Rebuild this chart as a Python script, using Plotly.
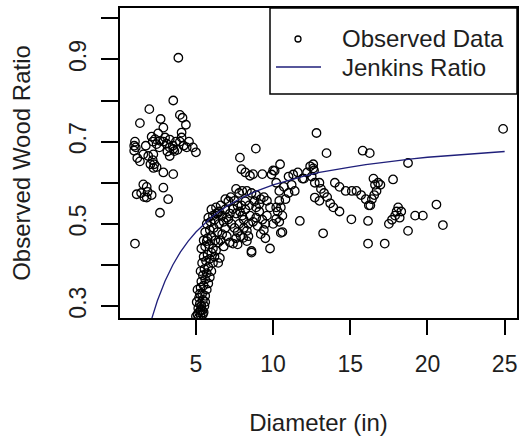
import plotly.graph_objects as go

left_diam = [1.0, 1.05, 1.1, 1.0, 1.05, 1.37, 1.37, 1.59, 1.91, 2.24, 1.98, 2.13, 2.35, 2.2, 2.45,
             2.67, 2.63, 2.71, 2.89, 2.89, 3.1, 3.3, 3.5, 3.7, 3.96, 3.3, 3.53, 3.3, 3.6, 2.2,
             2.3, 2.25, 2.45, 2.89, 3.53, 3.53, 3.86, 3.96, 4.13, 4.35, 4.07, 4.07, 4.4, 4.8, 5.0,
             1.59, 1.81, 1.16, 1.45, 1.65, 1.87, 2.13, 1.81, 2.89, 3.2, 2.67, 4.2, 3.0, 2.55, 1.2,
             1.75, 2.05, 3.8, 4.55, 3.15]
left_ratio = [0.69, 0.70, 0.686, 0.678, 0.452, 0.745, 0.652, 0.669, 0.665, 0.669, 0.779, 0.712, 0.706, 0.70, 0.694,
              0.702, 0.686, 0.755, 0.734, 0.70, 0.695, 0.705, 0.69, 0.70, 0.70, 0.686, 0.682, 0.665, 0.677, 0.655,
              0.645, 0.636, 0.638, 0.625, 0.621, 0.80, 0.904, 0.765, 0.758, 0.741, 0.722, 0.71, 0.686, 0.686, 0.674,
              0.596, 0.59, 0.572, 0.575, 0.565, 0.578, 0.57, 0.564, 0.588, 0.560, 0.527, 0.69, 0.71, 0.72, 0.66,
              0.69, 0.645, 0.68, 0.70, 0.676]

column_diam = [5.0, 5.1, 5.2, 5.3, 5.4, 5.15, 5.35, 5.5, 5.05, 5.25, 5.45, 5.55, 5.2, 5.4, 5.6,
               5.1, 5.3, 5.5, 5.7, 5.35, 5.6, 5.8, 5.45, 5.7, 5.9, 5.3, 5.55, 5.8, 6.0, 5.4,
               5.65, 5.9, 6.1, 6.44, 5.5, 5.75, 6.0, 6.2, 5.35, 5.6, 5.85, 6.1, 6.3, 5.5, 5.75,
               6.0, 6.25, 6.45, 5.6, 5.9, 6.15, 6.4, 5.7, 5.95, 6.2, 6.5, 5.8, 6.1, 6.4, 6.0,
               6.3, 5.15, 5.3, 5.45, 5.25, 5.6, 6.55, 5.7]
column_ratio = [0.275, 0.28, 0.285, 0.278, 0.29, 0.295, 0.30, 0.285, 0.31, 0.305, 0.315, 0.30, 0.32, 0.33, 0.325,
                0.34, 0.345, 0.35, 0.34, 0.36, 0.365, 0.355, 0.375, 0.38, 0.37, 0.385, 0.39, 0.395, 0.385, 0.405,
                0.41, 0.415, 0.405, 0.405, 0.42, 0.425, 0.43, 0.42, 0.44, 0.445, 0.45, 0.44, 0.435, 0.46, 0.465,
                0.47, 0.46, 0.455, 0.48, 0.485, 0.49, 0.48, 0.50, 0.505, 0.51, 0.50, 0.515, 0.52, 0.525, 0.535,
                0.54, 0.27, 0.29, 0.28, 0.33, 0.31, 0.417, 0.458]

fan_diam = [6.5, 6.7, 6.9, 6.6, 6.3, 6.8, 7.0, 7.2, 7.1, 7.4, 7.5, 7.7, 7.3, 7.5, 7.7,
            7.6, 7.4, 6.9, 6.7, 6.6, 7.0, 7.2, 6.8, 7.9, 8.1, 8.3, 8.4, 8.3, 8.6, 8.06,
            7.7, 8.6, 7.6, 7.8, 8.0, 8.3, 8.6, 8.9, 9.2, 8.8, 9.1, 8.9, 9.4, 9.6, 9.8,
            9.6, 9.5, 9.4, 9.5, 9.8, 10.2, 10.4, 10.5, 10.6, 10.4, 10.2, 10.5, 10.6, 10.3, 10.0,
            8.0, 8.2, 8.5, 8.7, 8.4, 8.9, 9.1, 9.3, 7.8, 8.1, 7.95, 8.2, 8.45, 7.25, 7.1,
            6.9, 7.6, 7.85, 9.0, 9.2, 10.8, 11.0, 10.7, 10.45, 10.0, 10.1, 9.3, 8.7, 7.85, 8.88,
            7.95, 8.2, 8.5, 9.9, 10.2, 10.4]
fan_ratio = [0.53, 0.52, 0.535, 0.545, 0.525, 0.505, 0.515, 0.525, 0.511, 0.536, 0.556, 0.544, 0.50, 0.49, 0.48,
             0.465, 0.452, 0.49, 0.475, 0.46, 0.47, 0.455, 0.445, 0.47, 0.49, 0.483, 0.47, 0.458, 0.43, 0.466,
             0.45, 0.434, 0.585, 0.575, 0.58, 0.58, 0.575, 0.57, 0.56, 0.555, 0.548, 0.54, 0.565, 0.556, 0.54,
             0.52, 0.50, 0.485, 0.465, 0.44, 0.54, 0.556, 0.54, 0.52, 0.505, 0.512, 0.478, 0.48, 0.53, 0.50,
             0.52, 0.535, 0.52, 0.505, 0.50, 0.515, 0.53, 0.51, 0.50, 0.51, 0.545, 0.555, 0.545, 0.565, 0.555,
             0.56, 0.525, 0.53, 0.495, 0.475, 0.56, 0.575, 0.59, 0.645, 0.63, 0.629, 0.621, 0.621, 0.661, 0.683,
             0.633, 0.625, 0.617, 0.62, 0.60, 0.58]

right_diam = [11.3, 11.6, 11.9, 11.4, 11.73, 12.2, 12.4, 12.6, 12.6, 12.65, 12.81, 13.46, 12.0, 12.5, 12.7,
              13.0, 13.1, 13.3, 13.5, 12.7, 13.0, 13.7, 13.9, 14.3, 13.24, 14.0, 14.3, 14.7, 15.1, 15.4,
              15.7, 16.0, 16.2, 15.07, 16.15, 15.8, 16.26, 16.5, 16.8, 16.6, 16.95, 16.7, 16.55, 16.4, 16.3,
              17.77, 18.74, 16.15, 17.23, 17.5, 17.7, 17.9, 18.0, 18.1, 18.3, 18.2, 18.74, 19.2, 19.7, 20.58,
              21.0, 24.9, 11.0, 11.2]
right_ratio = [0.62, 0.625, 0.61, 0.58, 0.507, 0.625, 0.64, 0.645, 0.635, 0.63, 0.721, 0.672, 0.61, 0.615, 0.60,
               0.60, 0.585, 0.575, 0.565, 0.564, 0.556, 0.55, 0.54, 0.53, 0.477, 0.60, 0.59, 0.58, 0.58, 0.58,
               0.57, 0.56, 0.545, 0.511, 0.507, 0.678, 0.672, 0.61, 0.60, 0.595, 0.595, 0.58, 0.57, 0.56, 0.545,
               0.608, 0.648, 0.452, 0.452, 0.50, 0.51, 0.52, 0.53, 0.54, 0.53, 0.515, 0.483, 0.52, 0.52, 0.547,
               0.497, 0.731, 0.615, 0.595]

# ---- Jenkins ratio curve ----
curve_diam = [2.0, 2.15, 2.5, 3, 3.5, 4, 4.5, 5, 5.5, 6, 6.5, 7, 8, 9, 10, 11, 12, 13, 14, 15,
              16, 17, 18, 19, 20, 21, 22, 23, 24, 25]
curve_ratio = [0.253, 0.273, 0.313, 0.361, 0.400, 0.432, 0.458, 0.480, 0.499, 0.516, 0.530, 0.543,
               0.564, 0.581, 0.595, 0.606, 0.616, 0.625, 0.632, 0.638, 0.644, 0.649, 0.654, 0.658,
               0.662, 0.665, 0.668, 0.671, 0.673, 0.676]

x_ticks = [5, 10, 15, 20, 25]
y_ticks = [0.3, 0.4, 0.5, 0.6, 0.7, 0.8, 0.9, 1.0]
y_tick_text = ["0.3", "", "0.5", "", "0.7", "", "0.9", ""]
legend_labels = ["Observed Data", "Jenkins Ratio"]

diam = left_diam + column_diam + fan_diam + right_diam
ratio = left_ratio + column_ratio + fan_ratio + right_ratio

FONT = "Liberation Sans, Arial, sans-serif"
TXT = "#1e1e1e"
LINE_COL = "#1f1f7a"

fig = go.Figure()
fig.add_trace(go.Scatter(
    x=diam, y=ratio, mode="markers", name=legend_labels[0], showlegend=False,
    marker=dict(symbol="circle-open", size=8.5, color="black", line=dict(width=1.3)),
))
fig.add_trace(go.Scatter(
    x=curve_diam, y=curve_ratio, mode="lines", name=legend_labels[1], showlegend=False,
    line=dict(color=LINE_COL, width=1.3),
))

# ---- R-style legend box (top right, inside the plot) ----
# plot area: x 120..517 px, y 8..318 px
def px_x(p):
    return (p - 120) / 397.0

def px_y(p):
    return (318 - p) / 310.0

shapes = [
    dict(type="rect", xref="paper", yref="paper", x0=px_x(270), x1=1.0, y0=px_y(94), y1=1.0,
         line=dict(color="black", width=1.5), fillcolor="white", layer="above"),
    dict(type="line", xref="paper", yref="paper", x0=px_x(276), x1=px_x(321), y0=px_y(67), y1=px_y(67),
         line=dict(color=LINE_COL, width=1.5), layer="above"),
    dict(type="circle", xref="paper", yref="paper", xsizemode="pixel", ysizemode="pixel",
         xanchor=px_x(298), yanchor=px_y(39), x0=-3, x1=3, y0=-3, y1=3,
         line=dict(color="black", width=1.3), fillcolor="white", layer="above"),
]
annotations = [
    dict(xref="paper", yref="paper", x=px_x(340), y=px_y(39), text=legend_labels[0],
         xanchor="left", yanchor="middle", showarrow=False, font=dict(size=24, color=TXT)),
    dict(xref="paper", yref="paper", x=px_x(340), y=px_y(67), text=legend_labels[1],
         xanchor="left", yanchor="middle", showarrow=False, font=dict(size=24, color=TXT)),
]

fig.update_layout(
    width=519, height=436,
    margin=dict(l=120, r=2, t=8, b=118),
    paper_bgcolor="white", plot_bgcolor="white",
    font=dict(family=FONT, size=23, color=TXT),
    showlegend=False,
    shapes=shapes,
    annotations=annotations,
    xaxis=dict(
        range=[0.08, 25.8], tickvals=x_ticks, ticks="outside", ticklen=15, tickwidth=1.5,
        tickcolor="black", showline=True, mirror=True, linecolor="black", linewidth=1.5,
        showgrid=False, zeroline=False, automargin=False, ticklabelstandoff=10,
        tickfont=dict(size=23, color=TXT),
        title=dict(text="Diameter (in)", font=dict(size=24, color=TXT), standoff=38),
    ),
    yaxis=dict(
        range=[0.271, 1.025], tickvals=y_ticks, ticktext=y_tick_text, tickangle=-90,
        ticks="outside", ticklen=17, tickwidth=1.5, tickcolor="black",
        showline=True, mirror=True, linecolor="black", linewidth=1.5,
        showgrid=False, zeroline=False, automargin=False, ticklabelstandoff=6,
        tickfont=dict(size=23, color=TXT),
        title=dict(text="Observed Wood Ratio", font=dict(size=24, color=TXT), standoff=28),
    ),
)

fig.write_html(
    "out.html",
    config={"displayModeBar": False},
    post_script="document.body.style.margin='0';document.body.style.padding='0';",
)
